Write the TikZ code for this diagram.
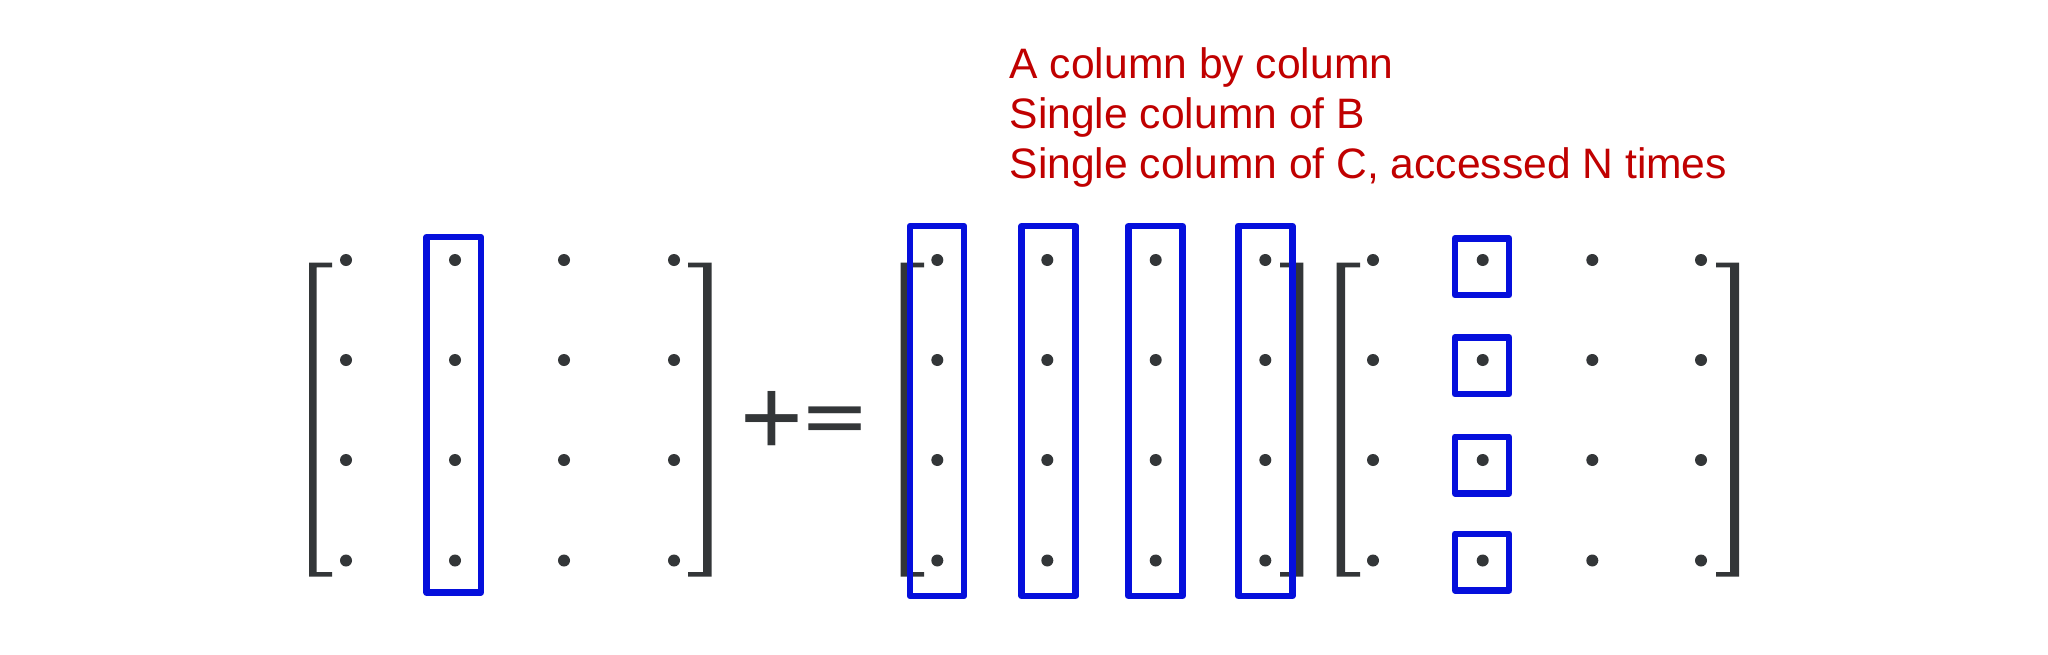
\documentclass[tikz,border=0pt]{standalone}
\usepackage{graphicx}
\usepackage{fontspec}
\setmainfont{Liberation Sans}
\definecolor{ink}{RGB}{51,54,56}
\definecolor{hl}{RGB}{5,15,220}
\definecolor{note}{RGB}{192,0,0}
\newcommand\mylbrk[3]{\fill[ink] (#1,262.7) -- (#3,262.7) -- (#3,267.4) -- (#2,267.4) -- (#2,572) -- (#3,572) -- (#3,576.7) -- (#1,576.7) -- cycle;}
\newcommand\myrbrk[3]{\fill[ink] (#2,262.7) -- (#3,262.7) -- (#3,267.4) -- (#1,267.4) -- (#1,572) -- (#3,572) -- (#3,576.7) -- (#2,576.7) -- cycle;}
% measure glyph ink of #2 in font #1 at 100pt; results stored with prefix #3
\newcommand\mymeasure[3]{%
  \begingroup #1\fontsize{100}{100}\selectfont
  \setbox0=\hbox{#2}%
  \dimen0=\wd0
  \dimen1=\XeTeXglyphbounds1 \XeTeXcharglyph`#2\relax
  \dimen2=\XeTeXglyphbounds2 \XeTeXcharglyph`#2\relax
  \dimen3=\XeTeXglyphbounds3 \XeTeXcharglyph`#2\relax
  \dimen4=\XeTeXglyphbounds4 \XeTeXcharglyph`#2\relax
  \expandafter\xdef\csname #3W\endcsname{\the\dimen0}%
  \expandafter\xdef\csname #3L\endcsname{\the\dimen1}%
  \expandafter\xdef\csname #3T\endcsname{\the\dimen2}%
  \expandafter\xdef\csname #3R\endcsname{\the\dimen3}%
  \expandafter\xdef\csname #3B\endcsname{\the\dimen4}%
  \endgroup}
% #1 name/prefix, #2 font switch, #3 char, #4 ink centre x, #5 ink centre y, #6 ink width, #7 ink height
\newcommand\myopnode[7]{%
  \edef\gW{\csname #1W\endcsname}\edef\gL{\csname #1L\endcsname}%
  \edef\gT{\csname #1T\endcsname}\edef\gR{\csname #1R\endcsname}%
  \edef\gB{\csname #1B\endcsname}%
  \pgfmathsetmacro\opsx{#6/(\gW-\gL-\gR)}%
  \pgfmathsetmacro\opsy{#7/(\gT+\gB)}%
  \pgfmathsetmacro\opyb{#5+\opsy*(\gT-\gB)/2}%
  \pgfmathsetmacro\opxl{#4-#6/2-\opsx*\gL}%
  \node[anchor=base west,inner sep=0pt,outer sep=0pt,text=ink] (#1) at (\opxl,\opyb)
    {\scalebox{\opsx}[\opsy]{#2\fontsize{100}{100}\selectfont #3}};}
\begin{document}
\mymeasure{\mdseries}{+}{plus}%
\mymeasure{\bfseries}{=}{eq}%
\begin{tikzpicture}[x=1pt,y=-1pt,
  dot/.style={circle,fill=ink,inner sep=0pt,minimum size=12pt},
  hlbox/.style={draw=hl,line width=6.5pt,line join=round,inner sep=0pt,outer sep=0pt},
  notetext/.style={anchor=base west,inner sep=0pt,text=note,font=\fontsize{42.6}{50}\selectfont}]
\useasboundingbox[fill=white] (0,0) rectangle (2048,654);
% brackets
\mylbrk{309}{316.7}{332}
\myrbrk{703}{711.7}{688}
\mylbrk{900.7}{908.4}{924}
\myrbrk{1295.6}{1303.3}{1280}
\mylbrk{1336.7}{1345}{1360}
\myrbrk{1730}{1739}{1716}
% dots
\foreach \r/\y in {1/260,2/360,3/460,4/560.5}{
  \foreach \c/\x in {1/346,2/455,3/564,4/674} \node[dot] (C\r\c) at (\x,\y) {};
  \foreach \c/\x in {1/937.3,2/1047.3,3/1155.7,4/1265.3} \node[dot] (A\r\c) at (\x,\y) {};
  \foreach \c/\x in {1/1373,2/1482.7,3/1592.3,4/1701} \node[dot] (B\r\c) at (\x,\y) {};
}
% highlight boxes
\node[hlbox,minimum width=54.3pt,minimum height=355.5pt] (Ccol) at (453.7,414.8) {};
\foreach \i/\x in {1/937,2/1048.6,3/1155.5,4/1265.3}
  \node[hlbox,minimum width=54pt,minimum height=370pt] (Acol\i) at (\x,411) {};
\foreach \i/\y in {1/266.8,2/365.8,3/465,4/562}
  \node[hlbox,minimum width=54.3pt,minimum height=56.5pt] (Bel\i) at (1482,\y) {};
% operators
\myopnode{plus}{\mdseries}{+}{772.15}{418.85}{52.3}{54.3}
\myopnode{eq}{\bfseries}{=}{835.5}{419.15}{52.4}{23.7}
% notes
\node[notetext] (t1) at (1009.5,78.3) {A column by column};
\node[notetext] (t2) at (1009.5,128.3) {Single column of B};
\node[notetext] (t3) at (1009.5,178.3) {Single column of C, accessed N times};
\end{tikzpicture}
\end{document}
